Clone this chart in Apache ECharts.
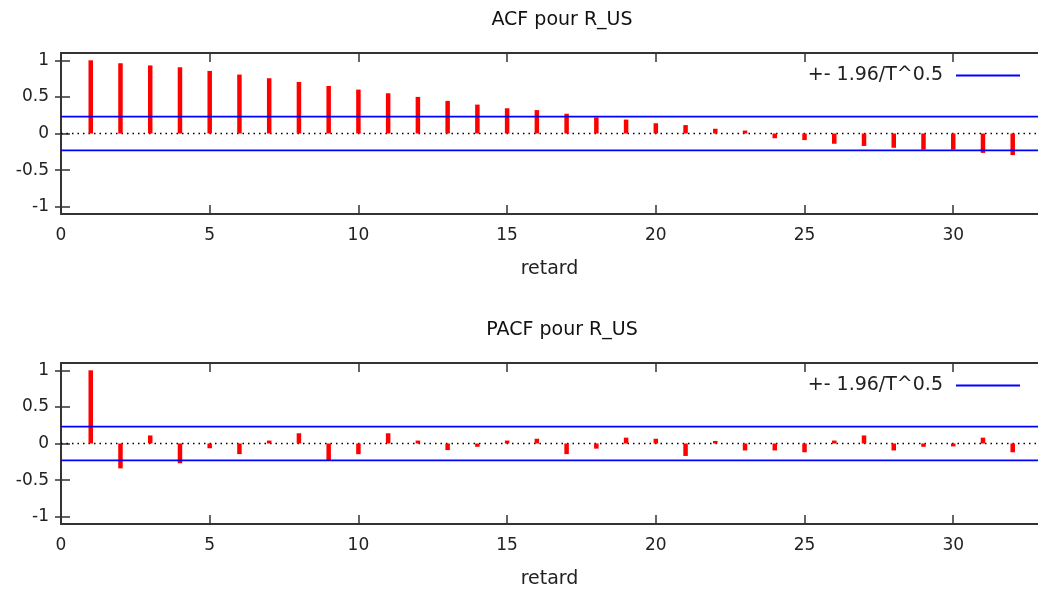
<!DOCTYPE html>
<html>
<head>
<meta charset="utf-8">
<style>
html,body{margin:0;padding:0;background:#fff;}
#c{width:1038px;height:592px;}
</style>
<script src="https://cdn.jsdelivr.net/npm/echarts@6/dist/echarts.min.js"></script>
</head>
<body>
<div id="c"></div>
<script>
// ---- data ----
const lags = [1,2,3,4,5,6,7,8,9,10,11,12,13,14,15,16,17,18,19,20,21,22,23,24,25,26,27,28,29,30,31,32];
const acfValues = [1.0,0.96,0.93,0.905,0.855,0.805,0.755,0.705,0.65,0.60,0.55,0.50,0.445,0.395,0.345,0.32,0.27,0.22,0.19,0.14,0.115,0.065,0.04,-0.065,-0.09,-0.14,-0.17,-0.195,-0.22,-0.22,-0.265,-0.295];
const pacfValues = [1.0,-0.34,0.11,-0.27,-0.065,-0.145,0.04,0.14,-0.233,-0.146,0.14,0.04,-0.09,-0.045,0.04,0.065,-0.145,-0.07,0.08,0.065,-0.17,0.035,-0.095,-0.095,-0.12,0.04,0.11,-0.095,-0.045,-0.04,0.08,-0.12];
const confBand = 0.23;
const xTicks = [0,5,10,15,20,25,30];
const yTicks = [-1,-0.5,0,0.5,1];
const titles = ['ACF pour R_US','PACF pour R_US'];
const xName = 'retard';
const bandName = '+- 1.96/T^0.5';

const FONT = 'DejaVu Sans';
const gridTops = [53, 363];
const gridH = 161;
const xMax = 32.85;   // visible extent (the plot box continues just past the picture's right edge)

const grids = [], xAxes = [], yAxes = [], series = [], legends = [], titleArr = [];
[acfValues, pacfValues].forEach((vals, g) => {
  grids.push({left: 61, top: gridTops[g], right: 0, height: gridH, containLabel: false});
  const axisLine = {show: true, onZero: false, lineStyle: {color: '#333', width: 2}};
  const tick = {inside: true, length: 9, lineStyle: {color: '#333', width: 1.5}};
  xAxes.push({
    type: 'value', gridIndex: g, min: 0, max: xMax, position: 'bottom',
    axisLine: axisLine,
    axisTick: Object.assign({customValues: xTicks}, tick),
    axisLabel: {customValues: xTicks, margin: 13, fontFamily: FONT, fontSize: 17, color: '#222'},
    splitLine: {show: false},
    name: xName, nameLocation: 'middle', nameGap: 46,
    nameTextStyle: {fontFamily: FONT, fontSize: 19, color: '#222'}
  });
  xAxes.push({
    type: 'value', gridIndex: g, min: 0, max: xMax, position: 'top',
    axisLine: axisLine,
    axisTick: Object.assign({customValues: xTicks}, tick),
    axisLabel: {show: false}, splitLine: {show: false}
  });
  yAxes.push({
    type: 'value', gridIndex: g, min: -1.1, max: 1.1, position: 'left',
    axisLine: axisLine,
    axisTick: Object.assign({customValues: yTicks}, tick),
    axisLabel: {customValues: yTicks, margin: 12, fontFamily: FONT, fontSize: 17, color: '#222'},
    splitLine: {show: false}
  });
  yAxes.push({
    type: 'value', gridIndex: g, min: -1.1, max: 1.1, position: 'right',
    axisLine: {show: false},
    axisTick: {inside: true, length: 6, customValues: yTicks, lineStyle: {color: '#333', width: 1.5}},
    axisLabel: {show: false}, splitLine: {show: false}
  });
  series.push({
    type: 'bar', name: titles[g], xAxisIndex: g*2, yAxisIndex: g*2,
    data: lags.map((l, i) => [l, vals[i]]),
    barWidth: 4.5, itemStyle: {color: '#ff0000'},
    silent: true, z: 3,
    markLine: {
      silent: true, symbol: 'none', label: {show: false},
      lineStyle: {color: '#000', width: 1.3, type: [1.5, 4]},
      data: [{yAxis: 0}], z: 2
    }
  });
  [confBand, -confBand].forEach(v => {
    series.push({
      type: 'line', name: bandName, xAxisIndex: g*2, yAxisIndex: g*2,
      data: [[0, v], [xMax, v]], symbol: 'none', silent: true,
      lineStyle: {color: '#0000ff', width: 1.6}, itemStyle: {color: '#0000ff'}, z: 4
    });
  });
  legends.push({
    data: [bandName], right: 13, top: gridTops[g] + 8, align: 'right',
    icon: 'rect', itemWidth: 64, itemHeight: 2, selectedMode: false,
    itemStyle: {color: '#0000ff'},
    textStyle: {fontFamily: FONT, fontSize: 19, color: '#222', padding: [0, 8, 0, 0]}
  });
  titleArr.push({
    text: titles[g], left: 557, top: g === 0 ? 6 : 316, textAlign: 'center',
    textStyle: {fontFamily: FONT, fontSize: 19, fontWeight: 'normal', color: '#111'}
  });
});

const chart = echarts.init(document.getElementById('c'), null, {renderer: 'canvas'});
chart.setOption({
  animation: false,
  backgroundColor: '#fff',
  title: titleArr,
  legend: legends,
  grid: grids,
  xAxis: xAxes,
  yAxis: yAxes,
  series: series
});
</script>
</body>
</html>
